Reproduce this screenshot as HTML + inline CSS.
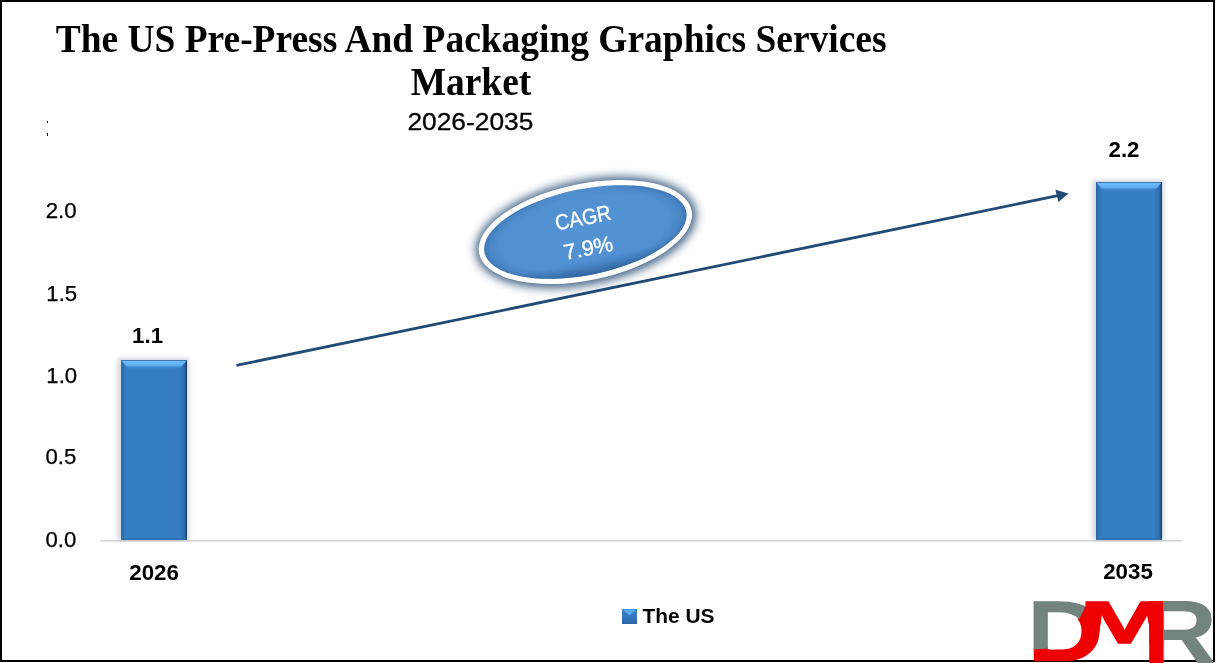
<!DOCTYPE html>
<html lang="en">
<head>
<meta charset="utf-8">
<title>The US Pre-Press And Packaging Graphics Services Market 2026-2035</title>
<style>
html,body{margin:0;padding:0;background:#fff;}
body{width:1216px;height:663px;overflow:hidden;position:relative;}
svg{position:absolute;left:0;top:0;display:block;}
.serif{font-family:"Liberation Serif",serif;font-weight:700;fill:#000;}
.sans{font-family:"Liberation Sans",sans-serif;fill:#000;}
.b{font-weight:700;}
</style>
</head>
<body>
<svg width="1216" height="663" viewBox="0 0 1216 663">
<defs>
  <linearGradient id="barR" x1="0" y1="0" x2="1" y2="0">
    <stop offset="0" stop-color="#2c66a2"/>
    <stop offset="0.025" stop-color="#2f70b1"/>
    <stop offset="0.09" stop-color="#357ec4"/>
    <stop offset="0.87" stop-color="#357ec4"/>
    <stop offset="0.94" stop-color="#3073b6"/>
    <stop offset="0.975" stop-color="#285f9e"/>
    <stop offset="0.99" stop-color="#1b3a6e"/>
    <stop offset="1" stop-color="#1b3a6e"/>
  </linearGradient>
  <linearGradient id="barTop" x1="0" y1="0" x2="0" y2="1">
    <stop offset="0" stop-color="#1f4f80"/>
    <stop offset="0.14" stop-color="#6cbcff"/>
    <stop offset="0.55" stop-color="#62aef2"/>
    <stop offset="1" stop-color="#377ec3" stop-opacity="0"/>
  </linearGradient>
  <linearGradient id="leg" x1="0" y1="0" x2="0" y2="1"><stop offset="0" stop-color="#3a80c6"/><stop offset="0.6" stop-color="#3174b9"/><stop offset="1" stop-color="#2a64a6"/></linearGradient>
  <filter id="soft" x="-20%" y="-20%" width="140%" height="140%"><feGaussianBlur stdDeviation="2"/></filter>
  <filter id="glow" x="-20%" y="-30%" width="140%" height="160%"><feGaussianBlur stdDeviation="4.6"/></filter>
  <linearGradient id="ellV" x1="0" y1="0" x2="0" y2="1">
    <stop offset="0" stop-color="#7db6ee" stop-opacity="0.35"/>
    <stop offset="0.10" stop-color="#5b9ad8" stop-opacity="0"/>
    <stop offset="0.82" stop-color="#2f65a0" stop-opacity="0"/>
    <stop offset="1" stop-color="#2a5e98" stop-opacity="0.75"/>
  </linearGradient>
  <radialGradient id="ell" cx="0.5" cy="0.5" r="0.5">
    <stop offset="0" stop-color="#5393d4"/>
    <stop offset="0.82" stop-color="#5191d2"/>
    <stop offset="0.94" stop-color="#4986c6"/>
    <stop offset="1" stop-color="#3f78b6"/>
  </radialGradient>
</defs>

<!-- frame -->
<rect x="0" y="0" width="1216" height="663" fill="#fff"/>
<rect x="1" y="1" width="1213" height="660" fill="none" stroke="#000" stroke-width="2"/>

<!-- title -->
<text class="serif" x="471.1" y="52" font-size="39.2" text-anchor="middle" textLength="830.8" lengthAdjust="spacingAndGlyphs">The US Pre-Press And Packaging Graphics Services</text>
<text class="serif" x="471" y="94.8" font-size="39.2" text-anchor="middle" textLength="120.6" lengthAdjust="spacingAndGlyphs">Market</text>
<text class="sans" x="470.4" y="130.4" font-size="24.4" stroke="#000" stroke-width="0.3" text-anchor="middle" textLength="126" lengthAdjust="spacingAndGlyphs">2026-2035</text>

<!-- stray clipped mark -->
<rect x="47" y="121" width="1" height="2" fill="#222"/>
<rect x="47" y="133" width="1" height="3" fill="#111"/>

<!-- y axis labels -->
<g class="sans" font-size="22.2" stroke="#000" stroke-width="0.25">
<text x="45.7" y="217.6">2.0</text>
<text x="46.3" y="300.7">1.5</text>
<text x="46.3" y="382.5">1.0</text>
<text x="45.4" y="464.2">0.5</text>
<text x="45.4" y="547.3">0.0</text>
</g>

<!-- axis -->
<rect x="100.5" y="540" width="1081" height="1.6" fill="#d4d4d4"/>

<!-- bars -->
<g>
  <rect x="117.5" y="358" width="71.5" height="182" fill="#8a93a6" opacity="0.36" filter="url(#soft)"/>
  <rect x="121" y="360" width="66" height="180" fill="url(#barR)"/>
  <polygon points="121,360 187,360 179,369.5 129,369.5" fill="url(#barTop)"/>
  <rect x="121" y="538" width="66" height="2" fill="#2f6cab" opacity="0.6"/>
</g>
<g>
  <rect x="1092.5" y="180" width="71.5" height="360" fill="#8a93a6" opacity="0.36" filter="url(#soft)"/>
  <rect x="1096" y="182" width="66" height="358" fill="url(#barR)"/>
  <polygon points="1096,182 1162,182 1154,191.5 1104,191.5" fill="url(#barTop)"/>
  <rect x="1096" y="538" width="66" height="2" fill="#2f6cab" opacity="0.6"/>
</g>

<!-- data labels -->
<g class="sans b" font-size="22.3">
<text x="147.6" y="342.6" text-anchor="middle">1.1</text>
<text x="1124" y="157.3" text-anchor="middle">2.2</text>
<text x="154.1" y="579.8" text-anchor="middle">2026</text>
<text x="1128" y="579" text-anchor="middle">2035</text>
</g>

<!-- arrow -->
<line x1="236.4" y1="365.4" x2="1059" y2="195.4" stroke="#214a75" stroke-width="2.8"/>
<polygon points="1068.5,193.5 1055.3,189.8 1058.5,201.9" fill="#214a75"/>

<!-- CAGR ellipse -->
<g transform="translate(585.4 232) rotate(-11.5)">
  <ellipse cx="0.5" cy="0.5" rx="112" ry="52" fill="#24476f" opacity="0.85" filter="url(#glow)"/>
  <ellipse cx="0" cy="0" rx="108.4" ry="48.3" fill="#fff"/>
  <ellipse cx="0" cy="0" rx="103" ry="43" fill="url(#ell)"/>
  <ellipse cx="0" cy="0" rx="103" ry="43" fill="url(#ellV)"/>
</g>
<g class="sans" font-size="21.8" style="fill:#fff;stroke:#fff;stroke-width:0.35">
<text transform="translate(556.7 230.6) rotate(-11.2)" textLength="56.6" lengthAdjust="spacingAndGlyphs">CAGR</text>
<text transform="translate(565.2 260.1) rotate(-11.2)" textLength="50" lengthAdjust="spacingAndGlyphs">7.9%</text>
</g>

<!-- legend -->
<rect x="622" y="609" width="15" height="15" fill="url(#leg)"/>
<polygon points="622.6,609.6 636.4,609.6 629.5,615.4" fill="#5aaaf2"/>
<text class="sans b" x="642.5" y="623.4" font-size="21" textLength="72" lengthAdjust="spacingAndGlyphs">The US</text>

<!-- DMR logo : real text glyphs, colour-split with clip paths -->
<defs>
  <clipPath id="cGrey"><polygon points="1033.6,590 1084.5,590 1084.5,609 1078,621 1053,621 1053,647.9 1033.6,649.6"/></clipPath>
  <clipPath id="cRed"><polygon points="1020,649.7 1047.8,647.3 1047.8,649.4 1053,649.4 1053,620 1077,620 1083.5,608 1083.5,590 1135,590 1135,663 1020,663"/></clipPath>
  <clipPath id="cM"><polygon points="1070,590 1170,590 1170,650 1149.6,650 1149.6,627 1147,616 1146.5,620 1140,633 1135,644.5 1114,644.5 1109,633 1103.5,620 1101.9,616 1099.7,629 1099.2,633 1097.8,638.5 1095.4,643.6 1095.4,650 1070,650"/></clipPath>
  <clipPath id="cRstem"><rect x="1140" y="590" width="23.4" height="73"/></clipPath>
  <clipPath id="cRbowl"><rect x="1163.4" y="590" width="53" height="73"/></clipPath>
</defs>
<g font-family="'Liberation Sans',sans-serif" font-weight="700">
  <g clip-path="url(#cRed)"><text transform="translate(1028.4 659.7) scale(1.224 1)" font-size="83.4" fill="#ee0000" stroke="#ee0000" stroke-width="2.6">D</text></g>
  <g clip-path="url(#cGrey)"><text transform="translate(1022.4 661.2) scale(1.353 1)" font-size="84.9" fill="#73847f" stroke="#73847f" stroke-width="1.6">D</text></g>
  <g clip-path="url(#cM)"><text transform="translate(1079.5 642.7) scale(1.811 1)" font-size="59.6" fill="#ee0000" stroke="#ee0000" stroke-width="1.4">M</text></g>
  <g clip-path="url(#cRstem)"><text transform="translate(1142.2 664.2) scale(1.15 1)" font-size="90.4" fill="#ee0000">R</text></g>
  <g clip-path="url(#cRbowl)"><text transform="translate(1142.2 664.2) scale(1.15 1)" font-size="90.4" fill="#73847f">R</text></g>
</g>

</svg>
</body>
</html>
